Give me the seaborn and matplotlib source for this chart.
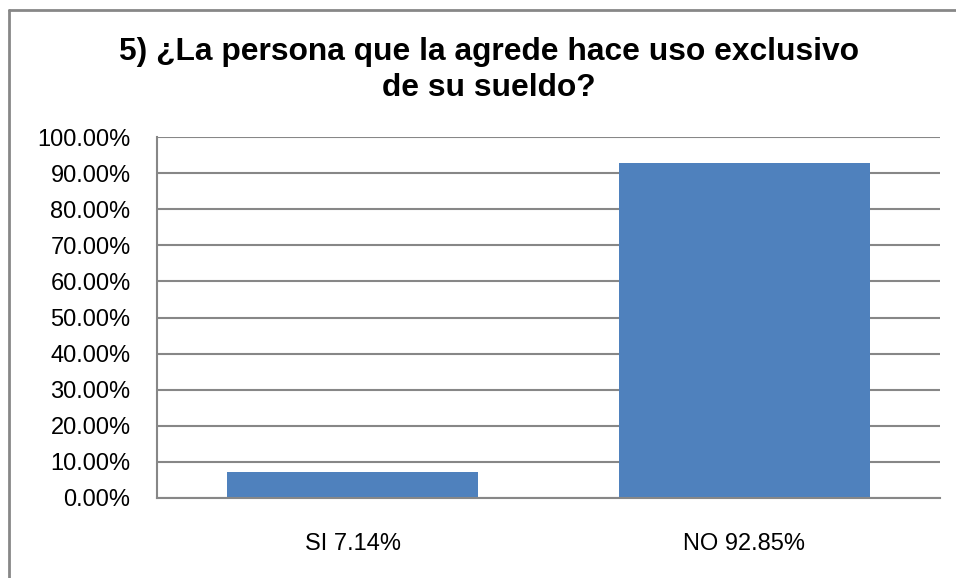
import matplotlib
matplotlib.use("Agg")
import matplotlib.pyplot as plt
import matplotlib.ticker as mticker
from matplotlib.lines import Line2D
import seaborn as sns
import pandas as pd

categories = ["SI 7.14%", "NO 92.85%"]
values = [0.0714, 0.9285]
title = "5) ¿La persona que la agrede hace uso exclusivo\nde su sueldo?"

sns.set_theme(style="white")
plt.rcParams['font.family'] = ['Liberation Sans Narrow', 'Liberation Sans', 'DejaVu Sans']

df = pd.DataFrame({"cat": categories, "val": values})

fig = plt.figure(figsize=(9.56, 5.78), dpi=100)
ax = fig.add_axes([157/956, 1-498/578, (940-157)/956, (498-137)/578])

sns.barplot(data=df, x="cat", y="val", color="#4F81BD", saturation=1, width=0.641, ax=ax, edgecolor="none")

ax.set_ylim(0, 1)
ax.set_xlim(-0.5, 1.5)
ax.yaxis.set_major_locator(mticker.MultipleLocator(0.1))
ax.yaxis.set_major_formatter(mticker.FuncFormatter(lambda v, p: f"{v*100:.2f}%"))
ax.set_axisbelow(True)
ax.grid(axis="y", color="#878787", linewidth=1.5)
ax.grid(axis="x", visible=False)
for s in ["top", "right"]:
    ax.spines[s].set_visible(False)
for s in ["left", "bottom"]:
    ax.spines[s].set_color("#878787")
    ax.spines[s].set_linewidth(1.5)
ax.set_xlabel("")
ax.set_ylabel("")
ax.tick_params(axis="y", length=0, pad=19, labelsize=17, labelcolor="black")
ax.tick_params(axis="x", length=0, pad=25, labelsize=17, labelcolor="black")

fig.text(489/956, 1-37/578, title, ha="center", va="top", fontsize=22.9, color="black",
         fontweight="bold", family=["Liberation Sans", "DejaVu Sans"], linespacing=1.27)

fig.add_artist(Line2D([8.5/956, 8.5/956], [0, 1-10/578], color="#878787", linewidth=2, transform=fig.transFigure))
fig.add_artist(Line2D([8.5/956, 1], [1-10/578, 1-10/578], color="#878787", linewidth=2, transform=fig.transFigure))

fig.savefig("out.png", dpi=100)
